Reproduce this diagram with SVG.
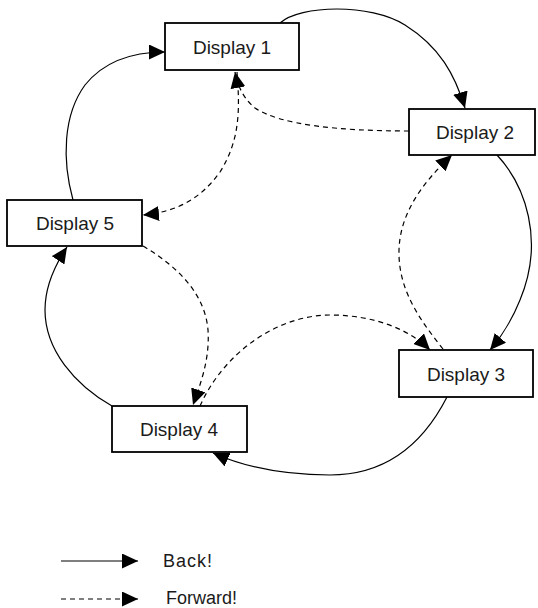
<svg xmlns="http://www.w3.org/2000/svg" width="538" height="608" viewBox="0 0 538 608">
<style>
.box{fill:#fff;stroke:#000;stroke-width:1.8}
.lbl{font-family:"Liberation Sans",Arial,sans-serif;font-size:19px;fill:#1a1a1a;text-anchor:middle}
.leg{font-family:"Liberation Sans",Arial,sans-serif;font-size:18px;fill:#1a1a1a}
.back{fill:none;stroke:#000;stroke-width:1.2;marker-end:url(#ah)}
.fwd{fill:none;stroke:#000;stroke-width:1.2;stroke-dasharray:5 4;marker-end:url(#ah)}
</style>
<defs>
<marker id="ah" markerUnits="userSpaceOnUse" markerWidth="16" markerHeight="15" refX="16" refY="7.5" orient="auto" viewBox="0 0 16 15">
<path d="M0,0 L16,7.5 L0,15 z" fill="#000"/>
</marker>
</defs>
<rect width="538" height="608" fill="#fff"/>
<g id="connectors">
<path class="back" d="M280,23 C300,5 370,3 405,25 C440,47 455,75 465,108"/>
<path class="back" d="M497,155 C525,185 545,240 520,300 C512,320 502,336 490,350"/>
<path class="back" d="M447,397 C425,440 390,475 330,475 C280,475 240,465 213,453"/>
<path class="back" d="M112,406 C75,385 45,350 45,310 C45,285 55,265 67,247"/>
<path class="back" d="M73,200 C62,160 63,115 85,85 C105,60 135,52 165,52"/>
<path class="fwd" d="M409,131 C340,131 280,125 255,108 C245,100 238,88 235,72"/>
<path class="fwd" d="M237,72 C240,110 240,140 220,172 C200,200 175,212 143,215"/>
<path class="fwd" d="M143,246 C180,268 205,295 208,330 C210,360 200,385 193,405"/>
<path class="fwd" d="M200,406 C225,350 280,315 330,315 C375,315 410,330 430,350"/>
<path class="fwd" d="M443,349 C420,320 398,290 399,250 C400,215 420,185 452,155"/>
</g>
<g id="display1"><rect class="box" x="165" y="23" width="134" height="47"/><text class="lbl" x="232" y="54">Display 1</text></g>
<g id="display2"><rect class="box" x="409" y="109" width="126" height="46"/><text class="lbl" x="475" y="139">Display 2</text></g>
<g id="display3"><rect class="box" x="399" y="350" width="134" height="47"/><text class="lbl" x="466" y="381">Display 3</text></g>
<g id="display4"><rect class="box" x="112" y="406" width="135" height="46"/><text class="lbl" x="179" y="436">Display 4</text></g>
<g id="display5"><rect class="box" x="7" y="200" width="135" height="46"/><text class="lbl" x="75" y="230">Display 5</text></g>
<g id="legend">
<line class="back" x1="61" y1="561" x2="138" y2="561"/>
<text class="leg" x="163" y="567" letter-spacing="1">Back!</text>
<line class="fwd" x1="61" y1="599" x2="138" y2="599"/>
<text class="leg" x="166" y="604">Forward!</text>
</g>
</svg>
